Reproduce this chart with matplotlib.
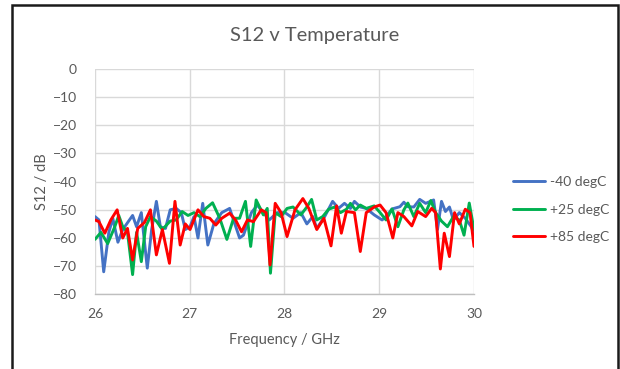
import matplotlib
matplotlib.use("Agg")
import matplotlib.pyplot as plt
from matplotlib.patches import Rectangle

# S12 measurements (GHz, dB) at three temperatures
freq_m40 = [26.000, 26.042, 26.092, 26.146, 26.188, 26.242, 26.293, 26.397, 26.439, 26.489,
            26.552, 26.598, 26.648, 26.690, 26.744, 26.794, 26.857, 26.911, 26.953, 27.003,
            27.045, 27.087, 27.137, 27.191, 27.254, 27.338, 27.421, 27.526, 27.567, 27.651,
            27.714, 27.777, 27.839, 27.923, 28.006, 28.090, 28.173, 28.236, 28.299, 28.341,
            28.424, 28.508, 28.570, 28.633, 28.696, 28.738, 28.801, 28.863, 28.947, 29.030,
            29.072, 29.135, 29.218, 29.260, 29.302, 29.365, 29.427, 29.490, 29.574, 29.615,
            29.657, 29.699, 29.741, 29.783, 29.845, 29.908, 29.971, 30.000]
s12_m40 = [-52.4, -53.6, -72.0, -58.0, -53.0, -61.5, -57.0, -52.0, -56.0, -51.0,
           -70.7, -57.0, -47.0, -56.0, -56.6, -50.0, -49.5, -51.0, -57.0, -56.0,
           -52.4, -60.0, -47.7, -62.5, -55.0, -51.0, -49.5, -60.0, -59.0, -51.0,
           -48.3, -51.0, -53.6, -51.0, -51.0, -53.0, -51.0, -55.0, -52.4, -56.6,
           -52.4, -47.0, -49.5, -47.7, -49.5, -47.0, -49.0, -49.5, -51.8, -53.6,
           -52.4, -49.7, -48.9, -47.3, -48.9, -49.0, -46.3, -47.7, -46.5, -57.0,
           -47.0, -50.6, -49.0, -53.6, -51.0, -53.0, -56.0, -58.3]

freq_p25 = [26.000, 26.063, 26.134, 26.209, 26.251, 26.293, 26.343, 26.397, 26.439, 26.489,
            26.535, 26.585, 26.648, 26.711, 26.794, 26.857, 26.920, 26.982, 27.045, 27.108,
            27.170, 27.241, 27.317, 27.392, 27.463, 27.526, 27.588, 27.643, 27.701, 27.777,
            27.818, 27.852, 27.902, 27.964, 28.027, 28.090, 28.173, 28.236, 28.286, 28.341,
            28.403, 28.466, 28.529, 28.591, 28.654, 28.696, 28.750, 28.800, 28.863, 28.947,
            29.009, 29.072, 29.135, 29.197, 29.260, 29.302, 29.365, 29.427, 29.490, 29.544,
            29.595, 29.657, 29.720, 29.783, 29.845, 29.895, 29.950, 30.000]
s12_p25 = [-60.5, -58.0, -62.0, -56.0, -52.0, -56.0, -58.0, -73.0, -58.0, -68.4,
           -56.0, -52.4, -54.0, -57.0, -54.0, -53.6, -50.6, -52.0, -51.0, -52.4,
           -49.5, -47.5, -53.0, -60.5, -53.0, -53.0, -47.0, -63.0, -46.5, -51.8,
           -49.5, -72.5, -51.0, -52.4, -49.5, -49.0, -51.8, -49.0, -46.3, -53.6,
           -52.4, -49.8, -49.0, -51.0, -49.8, -47.7, -50.0, -48.3, -49.5, -48.6,
           -51.0, -53.6, -49.7, -56.0, -50.0, -47.6, -52.4, -47.7, -51.0, -46.7,
           -51.0, -54.0, -56.0, -52.4, -53.6, -59.0, -47.6, -57.0]

freq_p85 = [26.000, 26.042, 26.104, 26.167, 26.234, 26.293, 26.343, 26.397, 26.451, 26.522,
            26.585, 26.648, 26.711, 26.786, 26.844, 26.899, 26.953, 27.003, 27.087, 27.149,
            27.212, 27.275, 27.338, 27.421, 27.484, 27.547, 27.609, 27.672, 27.755, 27.806,
            27.847, 27.902, 27.964, 28.027, 28.111, 28.194, 28.257, 28.341, 28.416, 28.491,
            28.550, 28.600, 28.654, 28.738, 28.800, 28.863, 28.947, 29.009, 29.072, 29.143,
            29.197, 29.260, 29.344, 29.406, 29.490, 29.553, 29.595, 29.645, 29.686, 29.741,
            29.795, 29.845, 29.908, 29.958, 30.000]
s12_p85 = [-53.6, -54.2, -58.3, -53.6, -50.0, -60.0, -56.6, -67.8, -56.6, -54.5,
           -50.0, -66.0, -57.0, -69.0, -47.0, -62.5, -55.0, -57.0, -50.0, -52.4,
           -53.0, -55.4, -53.0, -51.2, -53.6, -57.8, -53.6, -54.2, -50.0, -51.0,
           -69.6, -47.7, -51.0, -59.5, -50.0, -46.0, -49.5, -57.0, -53.0, -62.8,
           -48.6, -58.3, -50.6, -51.0, -64.8, -51.0, -49.0, -48.3, -51.0, -60.0,
           -51.0, -52.4, -55.7, -50.6, -52.4, -49.5, -51.0, -71.0, -58.3, -66.6,
           -51.0, -55.0, -49.8, -51.0, -63.0]

x_ticks = [26, 27, 28, 29, 30]
y_ticks = [0, -10, -20, -30, -40, -50, -60, -70, -80]

text_col = "#595959"
plt.rcParams["font.family"] = ["Lato", "DejaVu Sans"]

fig = plt.figure(figsize=(6.2, 3.69), dpi=100)
ax = fig.add_axes([0.1532, 0.2024, 0.6113, 0.6106])

ax.plot(freq_m40, s12_m40, color="#4472C4", lw=2.1, label="-40 degC",
        solid_joinstyle="round", solid_capstyle="round")
ax.plot(freq_p25, s12_p25, color="#00B050", lw=2.1, label="+25 degC",
        solid_joinstyle="round", solid_capstyle="round")
ax.plot(freq_p85, s12_p85, color="#FF0000", lw=2.1, label="+85 degC",
        solid_joinstyle="round", solid_capstyle="round")

ax.set_xlim(26, 30)
ax.set_ylim(-80, 0)
ax.set_xticks(x_ticks)
ax.set_yticks(y_ticks)
ax.grid(True, color="#d9d9d9", lw=1.0)
ax.set_axisbelow(True)
for side in ["top", "right", "left"]:
    ax.spines[side].set_visible(False)
ax.spines["bottom"].set_color("#bfbfbf")
ax.spines["bottom"].set_linewidth(1.0)
ax.tick_params(length=0, labelsize=10, colors=text_col)
ax.tick_params(axis="x", pad=10)
ax.tick_params(axis="y", pad=13)

ax.set_xlabel("Frequency / GHz", fontsize=10.5, color=text_col, labelpad=9)
ax.set_ylabel("S12 / dB", fontsize=10.5, color=text_col, labelpad=3)
fig.text(0.508, 0.905, "S12 v Temperature", fontsize=14.5, color=text_col,
         ha="center", va="center")

leg = fig.legend(loc="center left", bbox_to_anchor=(0.808, 0.432), frameon=False,
                 fontsize=10, handlelength=2.3, labelspacing=1.1, handletextpad=0.3)
for t in leg.get_texts():
    t.set_color(text_col)

# dark frame around the chart area
fig.add_artist(Rectangle((12 / 620, -0.05), 606 / 620, 1.05 - 5 / 369,
                         transform=fig.transFigure, fill=False,
                         edgecolor="#1a1a1a", lw=1.8))

fig.savefig("out.png", dpi=100)
